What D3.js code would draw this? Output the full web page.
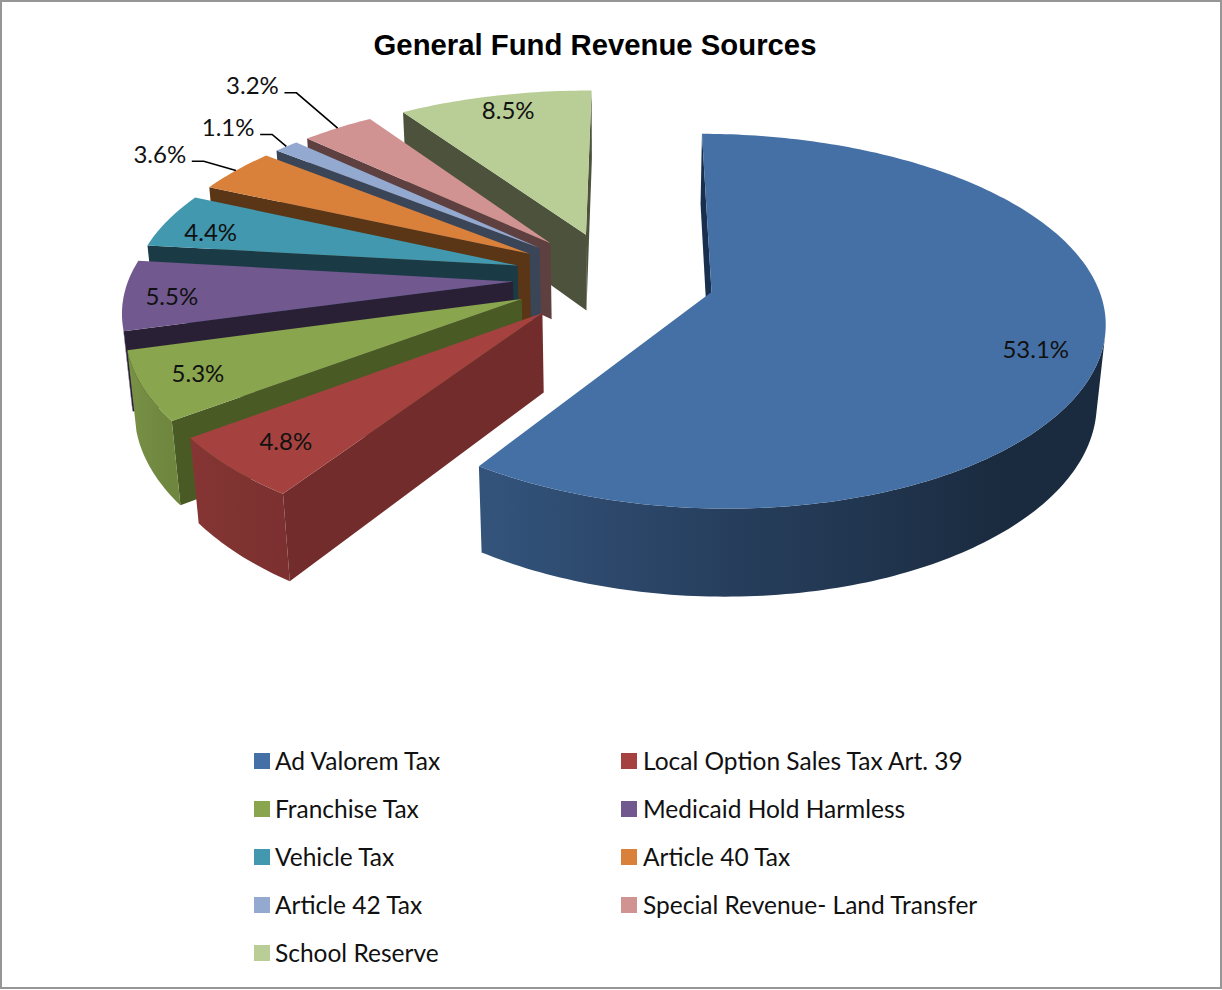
<!DOCTYPE html>
<html>
<head>
<meta charset="utf-8">
<script src="https://cdn.jsdelivr.net/npm/d3@7"></script>
<style>
  html, body { margin: 0; padding: 0; background: #fff; }
  svg { display: block; }
  text { font-family: Lato, "Open Sans", sans-serif; fill: #111; }
</style>
</head>
<body>
<div id="main"></div>
<script>
var categories = ["Ad Valorem Tax", "Local Option Sales Tax Art. 39", "Franchise Tax",
  "Medicaid Hold Harmless", "Vehicle Tax", "Article 40 Tax", "Article 42 Tax",
  "Special Revenue- Land Transfer", "School Reserve"];
var values = [53.1, 4.8, 5.3, 5.5, 4.4, 3.6, 1.1, 3.2, 8.5];
var topColors = ["#4570a6", "#a54240", "#89a54e", "#71588f", "#4198af", "#d9813a", "#93a9cf", "#d19392", "#b9cd96"];
var cutColors = ["#18304d", "#722c2b", "#4a5a25", "#2a2036", "#1a3b45", "#5a3616", "#3a4558", "#5f4040", "#4c523c"];

var WIDTH = 1222, HEIGHT = 990;
var RADIUS = 384, EXPLODE = 101, THICK = 90;
var CX = 614, CY = 278;
var TILT = 0.465, UPRIGHT = 0.88, PERSP_X = 0.00036, PERSP_Y = 0.0004, PERSP_Z = 0.0002;
var DEG = Math.PI / 180;
var START = 0.4 * DEG;

// label nudges from the anchor on each slice, [dx, dy]
var labelNudge = [[-6, 10], [-13, 8], [-24, 6], [-11, 3], [-25, 3], [-22, -1], [10, 8], [-38, -17], [-3, -10]];
var labelFrac = [0.85, 0.8, 0.8, 0.85, 0.8, 1.2, 1.3, 1.25, 0.8];
var hasLeader = [false, false, false, false, false, true, true, true, false];

// how bright an outer wall gets, by the angle it faces
var wallShade = d3.scaleLinear()
  .domain([0, 140, 180, 211, 231, 250, 360])
  .range([0.38, 0.38, 0.56, 0.74, 0.8, 0.88, 0.88]);

function project(p) {
  var depth = p.z * PERSP_Z;
  var sx = 1 / (1 - (p.y * PERSP_X + depth));
  var sy = 1 / (1 - (p.y * PERSP_Y + depth));
  return [CX + p.x * sx, CY + (p.y * TILT - p.z * UPRIGHT) * sy];
}

function onSlice(d, angle, r, z) {
  return {
    x: d.ox + r * Math.sin(angle),
    y: d.oy - r * Math.cos(angle),
    z: z
  };
}

function darker(hex, k) {
  var c = d3.rgb(hex);
  return d3.rgb(c.r * k, c.g * k, c.b * k).formatHex();
}

function shadeAt(i, angle) {
  return darker(topColors[i], wallShade(((angle / DEG) + 360) % 360));
}

function buildFaces(d, i) {
  var faces = [];
  var steps = Math.max(2, Math.ceil((d.endAngle - d.startAngle) / DEG));
  var angles = d3.range(steps + 1).map(function(k) {
    return d.startAngle + (d.endAngle - d.startAngle) * k / steps;
  });
  function quadPts(a, b) {
    return [project(a), project(b),
      project({x: b.x, y: b.y, z: -THICK}), project({x: a.x, y: a.y, z: -THICK})];
  }
  var apex = {x: d.ox, y: d.oy, z: 0};
  [[apex, onSlice(d, d.startAngle, RADIUS, 0)], [onSlice(d, d.endAngle, RADIUS, 0), apex]].forEach(function(e) {
    var pts = quadPts(e[0], e[1]);
    if (d3.polygonArea(pts) > 0) faces.push({pts: pts, fill: cutColors[i]});
  });

  // the part of the rim that faces us, as one wall with a gradient across it
  var seen = d3.range(steps).filter(function(k) {
    return d3.polygonArea(quadPts(onSlice(d, angles[k], RADIUS, 0), onSlice(d, angles[k + 1], RADIUS, 0))) > 0;
  });
  if (seen.length) {
    var wallAngles = seen.map(function(k) { return angles[k]; }).concat(angles[seen[seen.length - 1] + 1]);
    var upper = wallAngles.map(function(a) { return project(onSlice(d, a, RADIUS, 0)); });
    var lower = wallAngles.map(function(a) { return project(onSlice(d, a, RADIUS, -THICK)); }).reverse();
    var x0 = upper[0][0], x1 = upper[upper.length - 1][0];
    var stops = wallAngles.filter(function(a, k) { return k % 4 === 0; }).map(function(a) {
      return {
        offset: (project(onSlice(d, a, RADIUS, 0))[0] - x0) / (x1 - x0),
        color: shadeAt(i, a)
      };
    });
    faces.push({pts: upper.concat(lower), gradient: {id: "wall" + i, x0: x0, x1: x1, stops: stops}});
  }
  var top = [project(apex)].concat(angles.map(function(a) { return project(onSlice(d, a, RADIUS, 0)); }));
  faces.push({pts: top, fill: topColors[i]});
  return faces;
}

function init() {
  var svg = d3.select("#main").append("svg")
    .attr("width", WIDTH)
    .attr("height", HEIGHT);
  var defs = svg.append("defs");

  svg.append("rect")
    .attr("x", 1).attr("y", 1)
    .attr("width", WIDTH - 2).attr("height", HEIGHT - 3)
    .attr("fill", "#fff")
    .attr("stroke", "#969696")
    .attr("stroke-width", 2);

  svg.append("text")
    .attr("x", 595).attr("y", 55)
    .attr("text-anchor", "middle")
    .style("font-family", "'Liberation Sans', Arial, sans-serif")
    .style("font-weight", "bold")
    .style("font-size", "29.3px")
    .style("fill", "#000")
    .text("General Fund Revenue Sources");

  var slices = d3.pie().sort(null)
    .startAngle(START)
    .endAngle(START + 2 * Math.PI)(values);

  slices.forEach(function(d, i) {
    d.mid = (d.startAngle + d.endAngle) / 2;
    d.ox = EXPLODE * Math.sin(d.mid);
    d.oy = -EXPLODE * Math.cos(d.mid);
    d.index = i;
  });

  var line = d3.line();
  var pie = svg.append("g").attr("class", "pie");

  // back slices first so the nearer ones paint over them
  var groups = pie.selectAll(".slice")
    .data(slices.slice().reverse())
    .enter().append("g")
    .attr("class", "slice");

  function paint(f) {
    if (!f.gradient) return f.fill;
    var g = defs.append("linearGradient")
      .attr("id", f.gradient.id)
      .attr("gradientUnits", "userSpaceOnUse")
      .attr("x1", f.gradient.x0).attr("x2", f.gradient.x1)
      .attr("y1", 0).attr("y2", 0);
    g.selectAll("stop").data(f.gradient.stops).enter().append("stop")
      .attr("offset", function(s) { return s.offset; })
      .attr("stop-color", function(s) { return s.color; });
    return "url(#" + f.gradient.id + ")";
  }

  groups.selectAll("path")
    .data(function(d) { return buildFaces(d, d.index); })
    .enter().append("path")
    .attr("d", function(f) { return line(f.pts) + "Z"; })
    .attr("fill", paint);

  // value labels
  var labels = svg.append("g").attr("class", "labels");
  slices.forEach(function(d, i) {
    var p = project(onSlice(d, d.mid, RADIUS * labelFrac[i], 0));
    var x = p[0] + labelNudge[i][0], y = p[1] + labelNudge[i][1];
    labels.append("text")
      .attr("x", x).attr("y", y)
      .attr("text-anchor", "middle")
      .attr("dy", "0.35em")
      .style("font-size", "24px")
      .text(values[i].toFixed(1) + "%");
    if (hasLeader[i]) {
      var rim = project(onSlice(d, d.mid, RADIUS, 0));
      labels.append("path")
        .attr("d", line([[x + 32, y + 7], [x + 44, y + 7], rim]))
        .attr("fill", "none")
        .attr("stroke", "#000")
        .attr("stroke-width", 1.6);
    }
  });

  // legend, two columns
  var legendX = d3.scalePoint().domain([0, 1]).range([254, 621]);
  var legend = svg.selectAll(".legend")
    .data(categories)
    .enter().append("g")
    .attr("class", "legend")
    .attr("transform", function(d, i) {
      return "translate(" + legendX(i % 2) + "," + (761 + 48 * Math.floor(i / 2)) + ")";
    });
  legend.append("rect")
    .attr("y", -8)
    .attr("width", 16).attr("height", 16)
    .attr("fill", function(d, i) { return topColors[i]; });
  legend.append("text")
    .attr("x", function(d, i) { return i % 2 ? 22 : 21; })
    .attr("dy", "0.35em")
    .style("font-size", "24.5px")
    .text(function(d) { return d; });
}

init();
</script>
</body>
</html>
